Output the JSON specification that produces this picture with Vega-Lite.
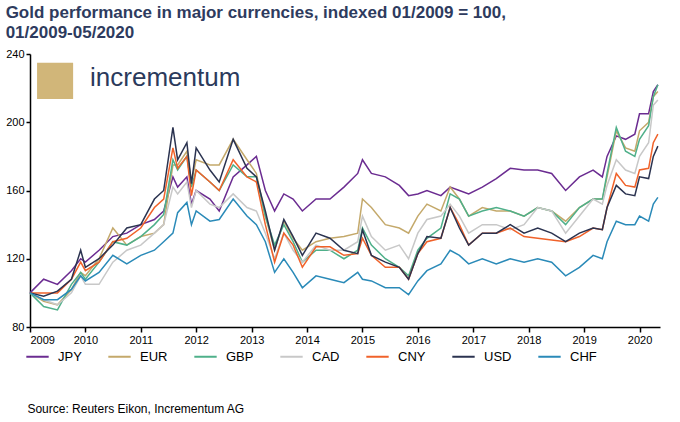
{
  "$schema": "https://vega.github.io/schema/vega-lite/v6.json",
  "width": 630,
  "height": 273,
  "padding": {"left": 5, "top": 4, "right": 5, "bottom": 0},
  "background": "white",
  "title": {
    "text": ["Gold performance in major currencies, indexed 01/2009 = 100,", "01/2009-05/2020"],
    "anchor": "start",
    "frame": "bounds",
    "fontSize": 17,
    "fontWeight": "bold",
    "font": "Liberation Sans",
    "color": "#2E3B5E",
    "lineHeight": 20,
    "offset": 6
  },
  "datasets": {
    "gold": [
      {"date": "2009-01-01", "JPY": 100, "EUR": 100, "GBP": 100, "CAD": 100, "CNY": 100, "USD": 100, "CHF": 100},
      {"date": "2009-04-01", "JPY": 108, "EUR": 95, "GBP": 92, "CAD": 96, "CNY": 100, "USD": 98, "CHF": 96},
      {"date": "2009-07-01", "JPY": 105, "EUR": 93, "GBP": 90, "CAD": 93, "CNY": 100, "USD": 101, "CHF": 96},
      {"date": "2009-10-01", "JPY": 113, "EUR": 102, "GBP": 105, "CAD": 100, "CNY": 108, "USD": 108, "CHF": 102},
      {"date": "2009-12-01", "JPY": 120, "EUR": 112, "GBP": 112, "CAD": 110, "CNY": 118, "USD": 125, "CHF": 110},
      {"date": "2010-01-01", "JPY": 118, "EUR": 110, "GBP": 108, "CAD": 105, "CNY": 113, "USD": 115, "CHF": 107},
      {"date": "2010-04-01", "JPY": 125, "EUR": 120, "GBP": 118, "CAD": 105, "CNY": 118, "USD": 120, "CHF": 112},
      {"date": "2010-07-01", "JPY": 133, "EUR": 138, "GBP": 130, "CAD": 118, "CNY": 130, "USD": 128, "CHF": 122},
      {"date": "2010-10-01", "JPY": 135, "EUR": 128, "GBP": 128, "CAD": 125, "CNY": 132, "USD": 138, "CHF": 117},
      {"date": "2011-01-01", "JPY": 140, "EUR": 133, "GBP": 133, "CAD": 128, "CNY": 138, "USD": 140, "CHF": 122},
      {"date": "2011-04-01", "JPY": 143, "EUR": 135, "GBP": 140, "CAD": 135, "CNY": 150, "USD": 155, "CHF": 125},
      {"date": "2011-06-01", "JPY": 148, "EUR": 140, "GBP": 146, "CAD": 140, "CNY": 155, "USD": 160, "CHF": 130},
      {"date": "2011-08-01", "JPY": 168, "EUR": 175, "GBP": 178, "CAD": 162, "CNY": 185, "USD": 197, "CHF": 135},
      {"date": "2011-09-01", "JPY": 162, "EUR": 175, "GBP": 172, "CAD": 158, "CNY": 173, "USD": 178, "CHF": 147},
      {"date": "2011-11-01", "JPY": 168, "EUR": 183, "GBP": 180, "CAD": 165, "CNY": 180, "USD": 188, "CHF": 153},
      {"date": "2011-12-01", "JPY": 152, "EUR": 165, "GBP": 162, "CAD": 150, "CNY": 157, "USD": 164, "CHF": 140},
      {"date": "2012-01-01", "JPY": 160, "EUR": 178, "GBP": 172, "CAD": 160, "CNY": 172, "USD": 185, "CHF": 148},
      {"date": "2012-04-01", "JPY": 155, "EUR": 175, "GBP": 165, "CAD": 152, "CNY": 165, "USD": 172, "CHF": 142},
      {"date": "2012-06-01", "JPY": 148, "EUR": 175, "GBP": 160, "CAD": 150, "CNY": 160, "USD": 165, "CHF": 143},
      {"date": "2012-09-01", "JPY": 168, "EUR": 190, "GBP": 175, "CAD": 158, "CNY": 178, "USD": 190, "CHF": 155},
      {"date": "2012-12-01", "JPY": 175, "EUR": 178, "GBP": 168, "CAD": 150, "CNY": 168, "USD": 173, "CHF": 145},
      {"date": "2013-02-01", "JPY": 180, "EUR": 170, "GBP": 168, "CAD": 148, "CNY": 165, "USD": 168, "CHF": 140},
      {"date": "2013-04-01", "JPY": 160, "EUR": 145, "GBP": 145, "CAD": 135, "CNY": 140, "USD": 148, "CHF": 130},
      {"date": "2013-06-01", "JPY": 148, "EUR": 125, "GBP": 128, "CAD": 120, "CNY": 118, "USD": 125, "CHF": 112},
      {"date": "2013-08-01", "JPY": 158, "EUR": 142, "GBP": 140, "CAD": 135, "CNY": 135, "USD": 143, "CHF": 120},
      {"date": "2013-10-01", "JPY": 155, "EUR": 132, "GBP": 130, "CAD": 125, "CNY": 128, "USD": 133, "CHF": 112},
      {"date": "2013-12-01", "JPY": 148, "EUR": 125, "GBP": 118, "CAD": 118, "CNY": 115, "USD": 122, "CHF": 103},
      {"date": "2014-03-01", "JPY": 155, "EUR": 130, "GBP": 125, "CAD": 128, "CNY": 127, "USD": 135, "CHF": 110},
      {"date": "2014-06-01", "JPY": 155, "EUR": 132, "GBP": 125, "CAD": 125, "CNY": 127, "USD": 132, "CHF": 108},
      {"date": "2014-09-01", "JPY": 162, "EUR": 133, "GBP": 120, "CAD": 125, "CNY": 122, "USD": 125, "CHF": 106},
      {"date": "2014-12-01", "JPY": 170, "EUR": 135, "GBP": 125, "CAD": 130, "CNY": 123, "USD": 123, "CHF": 112},
      {"date": "2015-01-01", "JPY": 178, "EUR": 155, "GBP": 138, "CAD": 145, "CNY": 132, "USD": 137, "CHF": 108},
      {"date": "2015-03-01", "JPY": 170, "EUR": 150, "GBP": 128, "CAD": 133, "CNY": 122, "USD": 122, "CHF": 107},
      {"date": "2015-06-01", "JPY": 168, "EUR": 140, "GBP": 120, "CAD": 125, "CNY": 115, "USD": 118, "CHF": 103},
      {"date": "2015-09-01", "JPY": 163, "EUR": 138, "GBP": 115, "CAD": 128, "CNY": 115, "USD": 115, "CHF": 103},
      {"date": "2015-11-01", "JPY": 157, "EUR": 135, "GBP": 110, "CAD": 120, "CNY": 108, "USD": 108, "CHF": 99},
      {"date": "2016-01-01", "JPY": 158, "EUR": 145, "GBP": 125, "CAD": 135, "CNY": 123, "USD": 123, "CHF": 107},
      {"date": "2016-03-01", "JPY": 160, "EUR": 152, "GBP": 132, "CAD": 143, "CNY": 130, "USD": 133, "CHF": 113},
      {"date": "2016-06-01", "JPY": 157, "EUR": 148, "GBP": 138, "CAD": 145, "CNY": 132, "USD": 132, "CHF": 117},
      {"date": "2016-08-01", "JPY": 162, "EUR": 162, "GBP": 158, "CAD": 152, "CNY": 150, "USD": 150, "CHF": 125},
      {"date": "2016-10-01", "JPY": 160, "EUR": 155, "GBP": 155, "CAD": 145, "CNY": 140, "USD": 138, "CHF": 122},
      {"date": "2016-12-01", "JPY": 158, "EUR": 145, "GBP": 145, "CAD": 135, "CNY": 128, "USD": 128, "CHF": 117},
      {"date": "2017-03-01", "JPY": 162, "EUR": 150, "GBP": 148, "CAD": 140, "CNY": 135, "USD": 135, "CHF": 120},
      {"date": "2017-06-01", "JPY": 167, "EUR": 148, "GBP": 150, "CAD": 140, "CNY": 135, "USD": 135, "CHF": 117},
      {"date": "2017-09-01", "JPY": 173, "EUR": 148, "GBP": 148, "CAD": 137, "CNY": 138, "USD": 140, "CHF": 120},
      {"date": "2017-12-01", "JPY": 172, "EUR": 145, "GBP": 145, "CAD": 140, "CNY": 133, "USD": 135, "CHF": 118},
      {"date": "2018-03-01", "JPY": 172, "EUR": 150, "GBP": 150, "CAD": 150, "CNY": 132, "USD": 138, "CHF": 120},
      {"date": "2018-06-01", "JPY": 170, "EUR": 148, "GBP": 148, "CAD": 148, "CNY": 131, "USD": 135, "CHF": 118},
      {"date": "2018-09-01", "JPY": 160, "EUR": 142, "GBP": 140, "CAD": 135, "CNY": 130, "USD": 130, "CHF": 110},
      {"date": "2018-12-01", "JPY": 168, "EUR": 150, "GBP": 150, "CAD": 145, "CNY": 133, "USD": 135, "CHF": 115},
      {"date": "2019-03-01", "JPY": 172, "EUR": 155, "GBP": 155, "CAD": 155, "CNY": 138, "USD": 138, "CHF": 122},
      {"date": "2019-05-01", "JPY": 168, "EUR": 155, "GBP": 155, "CAD": 152, "CNY": 137, "USD": 137, "CHF": 120},
      {"date": "2019-06-01", "JPY": 180, "EUR": 168, "GBP": 170, "CAD": 163, "CNY": 150, "USD": 150, "CHF": 130},
      {"date": "2019-08-01", "JPY": 192, "EUR": 195, "GBP": 197, "CAD": 178, "CNY": 170, "USD": 163, "CHF": 142},
      {"date": "2019-10-01", "JPY": 190, "EUR": 185, "GBP": 183, "CAD": 172, "CNY": 163, "USD": 158, "CHF": 140},
      {"date": "2019-12-01", "JPY": 193, "EUR": 183, "GBP": 180, "CAD": 170, "CNY": 162, "USD": 157, "CHF": 140},
      {"date": "2020-01-01", "JPY": 205, "EUR": 195, "GBP": 190, "CAD": 180, "CNY": 172, "USD": 168, "CHF": 145},
      {"date": "2020-03-01", "JPY": 205, "EUR": 200, "GBP": 198, "CAD": 188, "CNY": 173, "USD": 167, "CHF": 142},
      {"date": "2020-04-01", "JPY": 218, "EUR": 215, "GBP": 215, "CAD": 210, "CNY": 188, "USD": 180, "CHF": 152},
      {"date": "2020-05-01", "JPY": 222, "EUR": 218, "GBP": 222, "CAD": 213, "CNY": 193, "USD": 186, "CHF": 156}
    ],
    "notes": [
      {"date": "2010-02-01", "value": 226, "label": "incrementum"}
    ],
    "source": [
      {"date": "2008-12-15", "value": 32, "label": "Source: Reuters Eikon, Incrementum AG"}
    ]
  },
  "layer": [
    {
      "data": {"name": "gold"},
      "transform": [
        {"fold": ["JPY", "EUR", "GBP", "CAD", "CNY", "USD", "CHF"], "as": ["currency", "value"]}
      ],
      "mark": {"type": "line", "strokeWidth": 1.5},
      "encoding": {
        "x": {
          "field": "date",
          "type": "temporal",
          "scale": {"domain": ["2009-01-01", "2020-05-15"]},
          "axis": {
            "title": null,
            "format": "%Y",
            "tickCount": {"interval": "year", "step": 1},
            "grid": false,
            "domainColor": "black",
            "domainWidth": 1.5,
            "tickColor": "black",
            "tickWidth": 1.5,
            "tickSize": 5,
            "labelFontSize": 11,
            "labelColor": "black",
            "labelFont": "Liberation Sans"
          }
        },
        "y": {
          "field": "value",
          "type": "quantitative",
          "scale": {"domain": [80, 240]},
          "axis": {
            "title": null,
            "values": [80, 100, 120, 140, 160, 180, 200, 220, 240],
            "labelOverlap": false,
            "grid": false,
            "domainColor": "black",
            "domainWidth": 1.5,
            "tickColor": "black",
            "tickWidth": 1.5,
            "tickSize": 4,
            "labelFontSize": 11,
            "labelColor": "black",
            "labelFont": "Liberation Sans"
          }
        },
        "color": {
          "field": "currency",
          "type": "nominal",
          "sort": ["JPY", "EUR", "GBP", "CAD", "CNY", "USD", "CHF"],
          "scale": {
            "domain": ["JPY", "EUR", "GBP", "CAD", "CNY", "USD", "CHF"],
            "range": ["#6B2C91", "#C4A96B", "#4FB08A", "#C8C8C8", "#F0622A", "#2B3350", "#2A8AB8"]
          },
          "legend": {
            "title": null,
            "orient": "none",
            "direction": "horizontal",
            "legendX": -5,
            "legendY": 290,
            "symbolType": "stroke",
            "symbolStrokeWidth": 2,
            "symbolSize": 500,
            "labelFontSize": 13,
            "labelFont": "Liberation Sans",
            "labelColor": "black",
            "columnPadding": 22,
            "labelOffset": 8
          }
        }
      }
    },
    {
      "data": {"name": "notes"},
      "mark": {"type": "text", "fontSize": 26, "fontWeight": 500, "font": "Liberation Sans", "color": "#2B3A5C", "align": "left", "baseline": "middle"},
      "encoding": {
        "x": {"field": "date", "type": "temporal"},
        "y": {"field": "value", "type": "quantitative"},
        "text": {"field": "label"}
      }
    },
    {
      "data": {"name": "notes"},
      "mark": {"type": "point", "shape": "square", "filled": true, "size": 1300, "color": "#C9A962", "opacity": 0.85, "xOffset": -35, "yOffset": 3},
      "encoding": {
        "x": {"field": "date", "type": "temporal"},
        "y": {"field": "value", "type": "quantitative"}
      }
    },
    {
      "data": {"name": "source"},
      "mark": {"type": "text", "fontSize": 12, "font": "Liberation Sans", "color": "black", "align": "left", "clip": false},
      "encoding": {
        "x": {"field": "date", "type": "temporal"},
        "y": {"field": "value", "type": "quantitative"},
        "text": {"field": "label"}
      }
    }
  ],
  "config": {"view": {"stroke": null}}
}
